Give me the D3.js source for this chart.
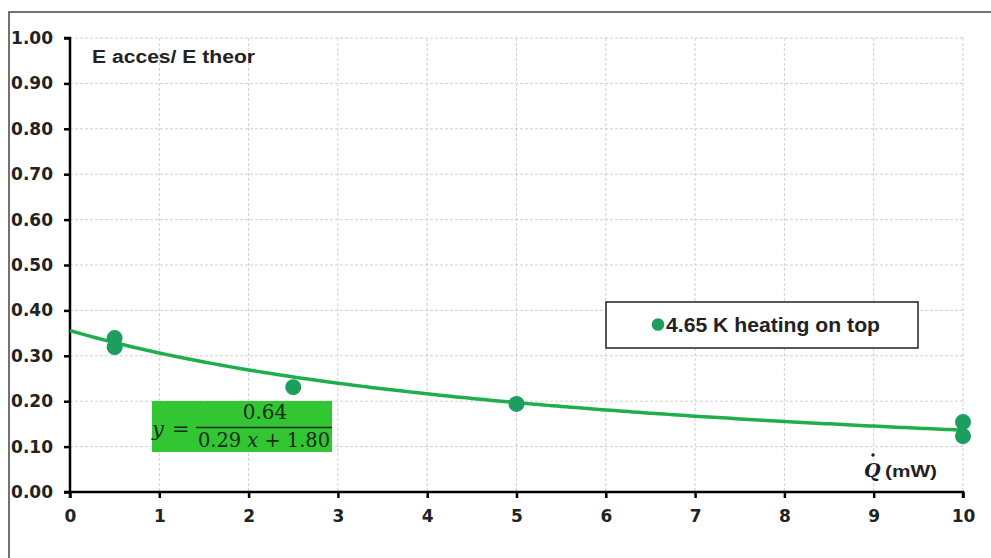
<!DOCTYPE html>
<html><head><meta charset="utf-8">
<script src="https://cdn.jsdelivr.net/npm/d3@7"></script>
<style>body{margin:0;background:#fff}svg{display:block}</style>
</head><body><svg id="c" width="991" height="558"></svg>
<script>
const xTicks = [0,1,2,3,4,5,6,7,8,9,10];
const yTicks = [0,0.1,0.2,0.3,0.4,0.5,0.6,0.7,0.8,0.9,1.0];
const pointsX = [0.5, 0.5, 2.5, 5, 10, 10];
const pointsY = [0.339, 0.319, 0.231, 0.194, 0.154, 0.123];
const fitA = 0.64, fitB = 0.29, fitC = 1.80;
const seriesName = "4.65 K heating on top";
const yTitle = "E acces/ E theor";

const svg = d3.select("#c");
const font = "Arial, 'Liberation Sans', sans-serif";
const tickFont = "'DejaVu Sans', Verdana, sans-serif";
const x = d3.scaleLinear().domain([0,10]).range([70,963]);
const y = d3.scaleLinear().domain([0,1]).range([492,38]);

svg.append("rect").attr("x",9).attr("y",12).attr("width",1000).attr("height",600)
  .attr("fill","none").attr("stroke","#444").attr("stroke-width",1.5);

// grid
const g = svg.append("g");
g.selectAll(".vg").data(xTicks.slice(1)).enter().append("line")
  .attr("x1",d=>x(d)).attr("x2",d=>x(d)).attr("y1",y(1)).attr("y2",y(0))
  .attr("stroke","#cfcfcf").attr("stroke-dasharray","3,2").attr("stroke-width",1);
g.selectAll(".hg").data(yTicks.slice(1)).enter().append("line")
  .attr("x1",x(0)).attr("x2",x(10)).attr("y1",d=>y(d)).attr("y2",d=>y(d))
  .attr("stroke","#cfcfcf").attr("stroke-dasharray","3,2").attr("stroke-width",1);

// axes
const xa = svg.append("g").attr("transform",`translate(0,${y(0)})`)
  .call(d3.axisBottom(x).tickValues(xTicks).tickSize(6).tickPadding(12).tickFormat(d3.format("d")));
const ya = svg.append("g").attr("transform",`translate(${x(0)},0)`)
  .call(d3.axisLeft(y).tickValues(yTicks).tickSize(6).tickPadding(11).tickFormat(d3.format(".2f")));
[xa,ya].forEach(a=>{
  a.attr("font-size",null).attr("font-family",null);
  a.select(".domain").attr("stroke","#000").attr("stroke-width",2.5);
  a.selectAll(".tick line").attr("stroke","#000").attr("stroke-width",2.5);
  a.selectAll("text").style("font-family",tickFont).style("font-size","17px").style("font-weight","bold").attr("fill","#222");
});
xa.select(".domain").attr("d",`M${x(0)},6V0H${x(10)}V6`);
ya.select(".domain").attr("d",`M-6,${y(1)}H0V${y(0)}H-6`);

// fit curve
const xs = d3.range(0,10.001,0.1);
const line = d3.line().x(d=>x(d)).y(d=>y(fitA/(fitB*d+fitC))).curve(d3.curveBasis);
svg.append("path").datum(xs).attr("d",line).attr("fill","none")
  .attr("stroke","#1fae4e").attr("stroke-width",3.5);

// points
svg.selectAll(".pt").data(pointsX).enter().append("circle")
  .attr("cx",d=>x(d)).attr("cy",(d,i)=>y(pointsY[i])).attr("r",8)
  .attr("fill","#1c9e5c");

// y title
svg.append("text").attr("x",92).attr("y",63).text(yTitle)
  .attr("textLength",163).attr("lengthAdjust","spacingAndGlyphs")
  .style("font-family",font).style("font-size","18px").style("font-weight","bold").attr("fill","#222");

// x label
svg.append("text").attr("x",864).attr("y",477).text("Q")
  .style("font-family","'DejaVu Serif', 'Liberation Serif', serif")
  .style("font-style","italic").style("font-weight","bold").style("font-size","19px").attr("fill","#1a1a2a");
svg.append("circle").attr("cx",873).attr("cy",455).attr("r",1.7).attr("fill","#1a1a2a");
svg.append("text").attr("x",885).attr("y",477).text("(mW)")
  .attr("textLength",52).attr("lengthAdjust","spacingAndGlyphs")
  .style("font-family",font).style("font-size","16px").style("font-weight","bold").attr("fill","#222");

// legend
svg.append("rect").attr("x",606).attr("y",302).attr("width",312).attr("height",46)
  .attr("fill","#fff").attr("stroke","#222").attr("stroke-width",1.5);
svg.append("circle").attr("cx",658).attr("cy",324.5).attr("r",6.3).attr("fill","#1c9e5c");
svg.append("text").attr("x",666).attr("y",332).text(seriesName)
  .attr("textLength",214).attr("lengthAdjust","spacingAndGlyphs")
  .style("font-family",font).style("font-size","20px").style("font-weight","bold").attr("fill","#222");

// equation box
svg.append("rect").attr("x",152).attr("y",401).attr("width",180).attr("height",51).attr("fill","#33c633");
const ef = "'DejaVu Serif','Liberation Serif',serif";
const ink = "#1a2a1a";
svg.append("text").attr("x",152).attr("y",436).text("y").style("font-family",ef)
  .style("font-style","italic").style("font-size","21px").attr("fill",ink);
svg.append("text").attr("x",172).attr("y",436).text("=").style("font-family",ef)
  .style("font-size","21px").attr("fill",ink);
svg.append("line").attr("x1",196).attr("x2",332).attr("y1",427.5).attr("y2",427.5).attr("stroke",ink).attr("stroke-width",1.5);
svg.append("text").attr("x",265).attr("y",419).attr("text-anchor","middle").text("0.64")
  .style("font-family",ef).style("font-size","20px").attr("fill",ink);
const den = svg.append("text").attr("x",198).attr("y",447)
  .attr("textLength",132).attr("lengthAdjust","spacingAndGlyphs")
  .style("font-family",ef).style("font-size","20px").attr("fill",ink);
den.append("tspan").text("0.29 ");
den.append("tspan").text("x").style("font-style","italic");
den.append("tspan").text(" + 1.80");
</script></body></html>
